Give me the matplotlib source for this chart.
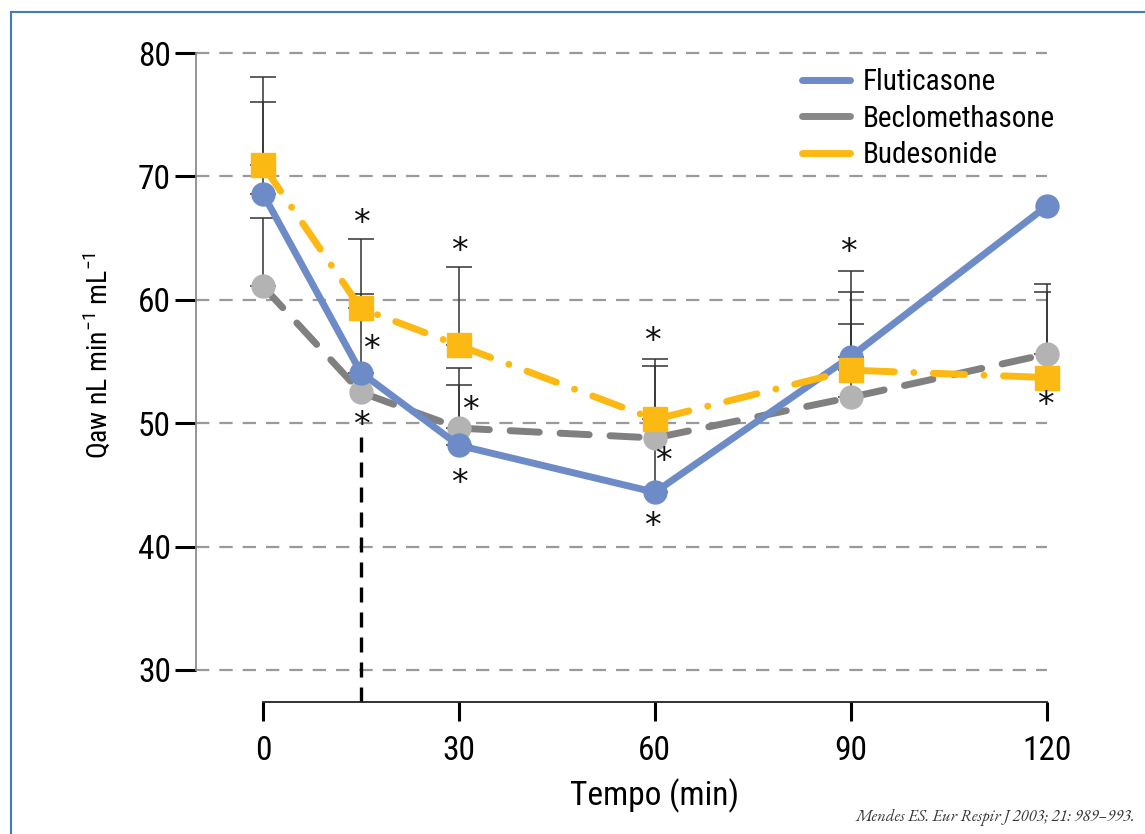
import matplotlib
matplotlib.use('Agg')
import matplotlib.pyplot as plt
from matplotlib.lines import Line2D
from matplotlib import font_manager
import numpy as np

nan = np.nan
# ---------------- data ----------------
times = [0, 15, 30, 60, 90, 120]
fluticasone = [68.6, 54.1, 48.2, 44.4, 55.4, 67.6]
beclomethasone = [61.1, 52.5, 49.6, 48.8, 52.1, 55.6]
budesonide = [70.9, 59.3, 56.3, 50.3, 54.3, 53.7]
# upper ends of the (one-sided) error bars
flu_upper = [76.0, 60.5, 53.1, 55.2, 60.6, nan]
bec_upper = [66.6, nan, 54.5, nan, 58.0, 60.6]
bud_upper = [78.1, 64.9, 62.7, 54.6, 62.3, 61.3]
# significance asterisks (time, value)
star_t = [15, 16.6, 15, 30, 31.8, 30, 59.6, 61.3, 59.6, 89.6, 119.8]
star_v = [66.2, 56.0, 49.8, 63.9, 51.0, 45.1, 56.6, 46.9, 41.6, 63.8, 51.4]
marker_time = 15          # vertical dashed line
marker_top = 49.4
x_ticks = [0, 30, 60, 90, 120]
y_ticks = [30, 40, 50, 60, 70, 80]
series_names = ['Fluticasone', 'Beclomethasone', 'Budesonide']
x_label = 'Tempo (min)'
y_label = r'Qaw nL min$^{\mathregular{-1}}$ mL$^{\mathregular{-1}}$'
source = 'Mendes ES. Eur Respir J 2003; 21: 989–993.'

# ---------------- fonts ----------------
names = {f.name for f in font_manager.fontManager.ttflist}
def pick(cands, default):
    for c in cands:
        if c in names:
            return c
    return default
cond = pick(['Roboto Condensed', 'Archivo Narrow', 'PT Sans Narrow',
             'Liberation Sans Narrow', 'Open Sans Condensed', 'IBM Plex Sans Condensed'],
            'Liberation Sans')
serif = pick(['EB Garamond', 'Cormorant Garamond', 'Liberation Serif'], 'DejaVu Serif')
plt.rcParams['font.family'] = [cond, 'DejaVu Sans']
plt.rcParams['mathtext.fontset'] = 'custom'
plt.rcParams['mathtext.rm'] = cond

BLUE = '#6C8BC7'
GRAY_LINE = '#808080'
GRAY_MARK = '#B3B3B3'
YELLOW = '#FDB913'

fig = plt.figure(figsize=(11.45, 8.34), dpi=100)
ax = fig.add_axes([196/1145, 1-702/834, (1050-196)/1145, (702-50)/834])

xmin, xmax = -10.25, 120.5
ymin, ymax = 27.4, 80.25
ax.set_xlim(xmin, xmax)
ax.set_ylim(ymin, ymax)

# grid lines
ax.hlines(y_ticks, xmin, 120, colors='#9A9A9A', linewidth=1.6,
          linestyles=(0, (6, 4.5)), zorder=1)

# vertical dashed marker
ax.vlines(marker_time, ymin, marker_top, colors='black', linewidth=2.4,
          linestyles=(0, (4.5, 3)), zorder=2)

# error bars
for vals, up in [(fluticasone, flu_upper), (beclomethasone, bec_upper), (budesonide, bud_upper)]:
    v = np.array(vals, float); u = np.array(up, float)
    ok = ~np.isnan(u)
    t = np.array(times, float)[ok]
    ax.errorbar(t, v[ok], yerr=[np.zeros(ok.sum()), (u - v)[ok]], fmt='none',
                ecolor='#333333', elinewidth=1.1, capsize=9.5, capthick=1.1, zorder=2.5)

lw = 5.0
# Beclomethasone
ax.plot(times, beclomethasone, color=GRAY_LINE, linewidth=lw, zorder=3,
        linestyle=(0, (4.2, 3.0)), dash_capstyle='round', solid_capstyle='round')
ax.plot(times, beclomethasone, linestyle='none', marker='o', markersize=16.5,
        markerfacecolor=GRAY_MARK, markeredgecolor=GRAY_MARK, zorder=3.2, clip_on=False)
# Fluticasone
ax.plot(times, fluticasone, color=BLUE, linewidth=lw, zorder=4,
        solid_capstyle='round', solid_joinstyle='round')
ax.plot(times, fluticasone, linestyle='none', marker='o', markersize=16.5,
        markerfacecolor=BLUE, markeredgecolor=BLUE, zorder=4.2, clip_on=False)
# Budesonide
ax.plot(times, budesonide, color=YELLOW, linewidth=lw, zorder=5,
        linestyle=(0, (4.5, 2.8, 0.01, 2.8)), dash_capstyle='round')
ax.plot(times, budesonide, linestyle='none', marker='s', markersize=17,
        markerfacecolor=YELLOW, markeredgecolor=YELLOW, zorder=5.2, clip_on=False)

# asterisks
for t, v in zip(star_t, star_v):
    ax.text(t, v, '*', fontsize=24, ha='center', va='center', family='DejaVu Sans',
            color='#111111', zorder=6)

# spines
for s in ['top', 'right']:
    ax.spines[s].set_visible(False)
ax.spines['left'].set_bounds(30, 80)
ax.spines['left'].set_color('#8C8C8C')
ax.spines['left'].set_linewidth(1.3)
ax.spines['bottom'].set_bounds(0, 120)
ax.spines['bottom'].set_color('#222222')
ax.spines['bottom'].set_linewidth(1.3)

ax.set_xticks(x_ticks)
ax.set_yticks(y_ticks)
ax.tick_params(axis='y', length=15, width=2.2, color='black', labelsize=24, pad=3)
ax.tick_params(axis='x', length=14, width=2.2, color='black', labelsize=24, pad=10)

ax.set_xlabel(x_label, fontsize=24)
ax.set_ylabel(y_label, fontsize=20)
ax.xaxis.set_label_coords((60 - xmin) / (xmax - xmin), -0.118)
ax.yaxis.set_label_coords(-0.097, 0.532)

# legend
handles = [Line2D([], [], color=c, linewidth=lw, solid_capstyle='round')
           for c in [BLUE, '#888888', YELLOW]]
leg = ax.legend(handles, series_names, loc='upper right', bbox_to_anchor=(1.03, 1.003),
                frameon=False, fontsize=21, handlelength=1.65, handletextpad=0.45,
                labelspacing=0.28, borderaxespad=0.3)

# source
fig.text(1135/1145, 1-818/834, source, ha='right', va='center', fontsize=12,
         family=serif, style='italic', color='#333333')

# border
fig.add_artist(Line2D([11/1145, 11/1145], [0, 1-12/834], transform=fig.transFigure,
                      color='#3F7BBF', linewidth=1.5))
fig.add_artist(Line2D([11/1145, 1], [1-12/834, 1-12/834], transform=fig.transFigure,
                      color='#3F7BBF', linewidth=1.5))

fig.savefig('out.png', dpi=100)
